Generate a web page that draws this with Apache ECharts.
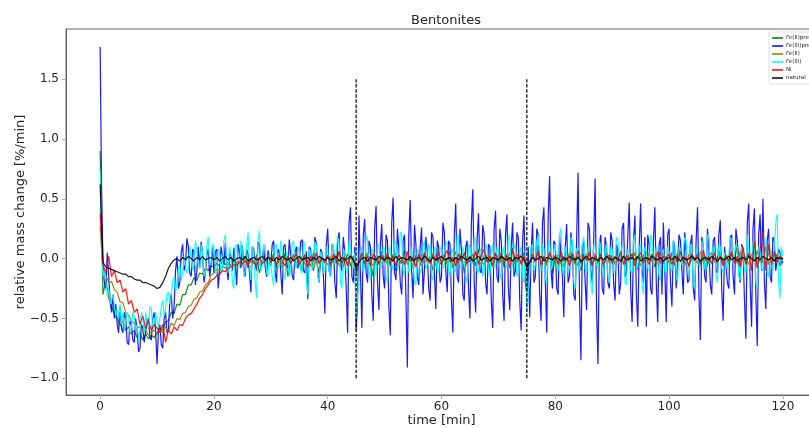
<!DOCTYPE html>
<html>
<head>
<meta charset="utf-8">
<script src="https://cdn.jsdelivr.net/npm/echarts@6/dist/echarts.min.js"></script>
<style>
  html, body { margin: 0; padding: 0; background: #fff; }
  #chart { width: 809px; height: 428px; }
</style>
</head>
<body>
<div id="chart"></div>
<script>
  // sampling steps of the measurements [min]
  const dtFine = 0.25
  const dtCoarse = 0.5

  const xTicks = [0, 20, 40, 60, 80, 100, 120]
  const yTicks = [-1.0, -0.5, 0.0, 0.5, 1.0, 1.5]
  const vlines = [45, 75]
  const vlineRange = [-1.0, 1.5]

  const names = ['Fe(II)pre', 'Fe(III)pre', 'Fe(II)', 'Fe(III)', 'Ni', 'natural']

  // dt = 0.5 min
  const feIIpre = [
    0.9, -0.3, -0.18, -0.33, -0.4, -0.47, -0.5, -0.56, -0.52, -0.6, -0.57, -0.63, -0.6, -0.66, -0.62, -0.68, -0.63, -0.67, -0.64, -0.66,
    -0.62, -0.58, -0.6, -0.53, -0.52, -0.45, -0.46, -0.38, -0.39, -0.3, -0.3, -0.22, -0.22, -0.16, -0.18, -0.12, -0.13, -0.08, -0.1, -0.06,
    -0.07, -0.04, -0.06, -0.02, -0.05, -0.03, -0.06, 0.0, -0.04, -0.02, -0.05, 0.02, -0.08, -0.01, -0.04, 0.03, -0.12, -0.02, 0.02, -0.05,
    -0.02, 0.04, -0.08, 0.0, -0.05, 0.05, -0.15, -0.02, 0.03, -0.06, 0.01, -0.1, 0.04, -0.03, -0.06, 0.05, -0.02, -0.12, 0.02, -0.04,
    0.03, -0.07, 0.0, -0.04, 0.06, -0.1, -0.02, 0.04, -0.06, 0.02, -0.12, -0.05, 0.03, -0.08, 0.05, -0.02, -0.15, 0.02, -0.04, 0.06,
    -0.03, 0.02, -0.06, 0.04, -0.1, 0.0, -0.04, 0.07, -0.05, 0.01, -0.08, 0.03, -0.02, -0.06, 0.05, -0.03, 0.02, -0.1, 0.04, -0.02,
    -0.05, 0.03, -0.02, 0.06, -0.08, 0.01, -0.04, 0.05, -0.12, 0.02, -0.03, 0.04, -0.06, 0.08, -0.02, -0.05, 0.03, -0.1, 0.01, 0.05,
    -0.04, 0.02, -0.07, 0.04, -0.02, 0.09, -0.05, 0.01, -0.03, 0.05, -0.1, -0.06, 0.03, -0.04, 0.12, -0.08, 0.02, -0.05, 0.06, -0.13,
    0.02, -0.04, 0.05, -0.07, 0.01, -0.03, 0.06, -0.05, 0.02, -0.1, 0.04, -0.02, 0.07, -0.06, 0.01, -0.04, 0.03, -0.08, 0.05, -0.02,
    0.03, -0.05, 0.08, -0.03, 0.02, -0.06, 0.04, -0.01, 0.05, -0.09, 0.02, -0.04, 0.06, -0.02, 0.03, -0.07, 0.01, 0.05, -0.04, 0.02,
    -0.03, 0.05, -0.06, 0.02, 0.08, -0.04, 0.01, -0.07, 0.04, -0.02, 0.06, -0.05, 0.03, -0.1, 0.02, 0.05, -0.03, 0.01, 0.07, -0.04,
    0.02, -0.05, 0.04, -0.02, 0.12, -0.06, 0.03, -0.04, 0.05, -0.01, 0.08, -0.07, 0.02, -0.03, 0.1, -0.05, 0.03, -0.02, 0.04, -0.06, 0.01
  ]

  // dt = 0.25 min
  const feIIIpre = [
    1.77, 0.6, -0.05, -0.2, -0.25, 0.05, -0.15, -0.35, -0.45, -0.3, -0.5, -0.38, -0.55, -0.62, -0.4, -0.58, -0.62, -0.45, -0.5, -0.7,
    -0.72, -0.52, -0.55, -0.68, -0.7, -0.5, -0.6, -0.78, -0.75, -0.55, -0.58, -0.7, -0.7, -0.52, -0.5, -0.66, -0.68, -0.5, -0.45, -0.6,
    -0.88, -0.6, -0.55, -0.72, -0.75, -0.5, -0.45, -0.62, -0.6, -0.35, -0.3, -0.5, -0.4, -0.1, 0.02, -0.25, -0.2, 0.05, 0.12, -0.1,
    -0.05, 0.17, 0.1, -0.12, -0.15, 0.08, 0.05, -0.22, -0.1, 0.1, -0.08, 0.14, 0.05, -0.2, -0.12, 0.03, 0.08, -0.15, -0.05, 0.1,
    -0.12, 0.06, 0.08, -0.25, -0.1, 0.1, 0.02, -0.05, 0.13, -0.08, -0.18, 0.05, 0.02, -0.1, 0.09, -0.04, -0.22, 0.12, 0.05, -0.08,
    0.11, -0.06, -0.15, 0.08, 0.04, -0.12, -0.28, 0.1, 0.08, -0.05, -0.1, 0.14, 0.12, -0.08, -0.02, 0.1, -0.06, -0.15, 0.07, 0.02,
    -0.06, 0.12, 0.15, -0.1, -0.2, 0.08, 0.05, -0.12, -0.3, 0.1, 0.12, -0.05, -0.08, 0.16, 0.03, -0.14, -0.18, 0.05, 0.1, -0.08,
    -0.04, 0.14, 0.16, -0.1, -0.12, 0.06, -0.34, 0.1, 0.08, -0.06, -0.1, 0.18, 0.13, -0.12, -0.2, 0.08, 0.05, -0.15, -0.46, 0.12,
    0.25, -0.1, -0.15, 0.12, 0.1, -0.2, -0.33, 0.15, 0.22, -0.05, -0.1, 0.18, 0.05, -0.25, -0.62, 0.3, 0.43, -0.15, -0.2, 0.1,
    -0.6, -0.35, 0.36, -0.1, -0.58, 0.2, 0.33, -0.12, -0.2, 0.15, 0.1, -0.3, -0.52, 0.25, 0.44, -0.2, -0.43, 0.12, 0.29, -0.15,
    -0.25, 0.2, 0.15, -0.4, -0.64, 0.3, 0.51, -0.12, -0.18, 0.25, 0.08, -0.2, -0.3, 0.15, 0.2, -0.33, -0.91, 0.2, 0.49, -0.1,
    -0.33, 0.28, 0.12, -0.15, -0.22, 0.1, 0.26, -0.3, -0.1, 0.18, 0.05, -0.25, -0.35, 0.22, 0.18, -0.12, -0.42, 0.15, 0.1, -0.2,
    -0.15, 0.3, 0.22, -0.1, -0.28, 0.15, 0.12, -0.35, -0.62, 0.2, 0.46, -0.15, -0.2, 0.25, 0.08, -0.3, -0.35, 0.1, 0.15, -0.25,
    -0.5, 0.3, 0.58, -0.2, -0.45, 0.15, 0.38, -0.1, -0.12, 0.28, 0.2, -0.2, -0.3, 0.12, 0.1, -0.35, -0.58, 0.25, 0.4, -0.15,
    -0.2, 0.25, 0.15, -0.3, -0.52, 0.2, 0.37, -0.25, -0.43, 0.1, 0.3, -0.15, -0.1, 0.22, 0.18, -0.35, -0.6, 0.15, 0.36, -0.2,
    -0.3, 0.1, -0.49, 0.05, 0.3, -0.2, -0.15, 0.25, 0.2, -0.3, -0.52, 0.3, 0.43, -0.2, -0.62, 0.35, 0.69, -0.1, -0.25, 0.15,
    0.12, -0.25, -0.3, 0.2, 0.2, -0.15, -0.49, 0.1, 0.29, -0.2, -0.15, 0.22, 0.1, -0.3, -0.35, 0.15, 0.72, -0.3, -0.85, 0.1,
    0.15, -0.2, -0.43, 0.3, 0.25, -0.1, -0.2, 0.15, 0.67, -0.4, -0.88, 0.12, 0.2, -0.25, -0.3, 0.18, 0.1, -0.2, -0.25, 0.22,
    0.15, -0.2, -0.35, 0.12, 0.08, -0.3, -0.2, 0.25, 0.3, -0.15, -0.12, 0.2, 0.47, -0.25, -0.53, 0.15, 0.36, -0.3, -0.57, 0.1,
    0.46, -0.1, -0.2, 0.18, -0.57, 0.2, 0.12, -0.25, -0.3, 0.15, 0.43, -0.2, -0.53, 0.12, 0.18, -0.3, 0.3, -0.1, -0.53, 0.2,
    0.25, -0.2, -0.4, 0.15, 0.1, -0.25, -0.25, 0.2, 0.15, -0.1, -0.3, 0.22, 0.05, -0.2, -0.18, 0.12, 0.2, -0.25, -0.35, 0.15,
    0.43, -0.3, -0.68, 0.18, 0.12, -0.15, -0.2, 0.25, 0.08, -0.22, -0.3, 0.15, 0.18, -0.1, -0.12, 0.2, 0.32, -0.25, -0.52, 0.1,
    0.1, -0.2, -0.25, 0.18, 0.2, -0.15, -0.3, 0.25, 0.15, -0.1, -0.2, 0.12, 0.08, -0.35, -0.67, 0.3, 0.46, -0.2, -0.57, 0.25,
    0.42, -0.3, -0.73, 0.2, 0.37, -0.1, 0.5, -0.2, -0.42, 0.15, 0.25, -0.15, -0.2, 0.18, 0.15, -0.1, -0.1, 0.08, 0.05, -0.05, -0.02
  ]

  // dt = 0.5 min
  const feII = [
    0.27, -0.1, -0.14, -0.2, -0.19, -0.26, -0.28, -0.36, -0.37, -0.45, -0.47, -0.52, -0.54, -0.58, -0.57, -0.62, -0.6, -0.64, -0.61, -0.6,
    -0.63, -0.59, -0.62, -0.57, -0.61, -0.54, -0.56, -0.5, -0.51, -0.46, -0.45, -0.4, -0.39, -0.34, -0.33, -0.28, -0.27, -0.22, -0.2, -0.14,
    -0.12, -0.09, -0.1, -0.06, -0.08, -0.04, -0.06, -0.02, -0.05, -0.03, -0.06, 0.01, -0.04, -0.07, -0.02, 0.02, -0.05, -0.03, 0.0, -0.06,
    -0.02, 0.03, -0.05, -0.01, -0.08, 0.02, -0.04, -0.02, 0.04, -0.07, -0.01, 0.02, -0.05, -0.03, 0.03, -0.09, 0.0, -0.04, 0.02, -0.03,
    -0.05, 0.02, -0.03, 0.04, -0.06, -0.01, 0.03, -0.05, 0.01, -0.04, -0.1, -0.03, 0.02, -0.05, 0.04, -0.02, -0.06, 0.03, -0.01, -0.04,
    0.02, -0.05, 0.01, -0.03, 0.05, -0.06, -0.01, 0.03, -0.04, 0.0, -0.07, 0.02, -0.02, 0.04, -0.05, 0.01, -0.03, 0.05, -0.06, 0.0,
    -0.02, 0.04, -0.05, 0.01, -0.03, 0.06, -0.04, -0.01, 0.03, -0.06, 0.02, -0.03, 0.05, -0.02, -0.05, 0.03, -0.01, 0.04, -0.07, 0.01,
    0.03, -0.04, 0.02, -0.02, 0.05, -0.05, 0.01, -0.03, 0.04, -0.02, -0.09, -0.04, 0.02, -0.01, 0.05, -0.04, 0.02, -0.06, 0.03, -0.01,
    -0.03, 0.04, -0.05, 0.02, -0.01, 0.05, -0.04, 0.01, -0.06, 0.03, -0.02, 0.04, -0.03, 0.0, 0.05, -0.05, 0.02, -0.02, 0.04, -0.04,
    0.01, -0.03, 0.05, -0.02, 0.03, -0.05, 0.0, 0.04, -0.04, 0.02, -0.06, 0.03, -0.01, 0.05, -0.03, 0.01, -0.05, 0.04, -0.02, 0.02,
    -0.04, 0.03, -0.01, 0.05, -0.03, 0.02, -0.06, 0.04, -0.02, 0.01, -0.04, 0.06, -0.03, 0.02, -0.05, 0.03, 0.0, -0.04, 0.05, -0.02,
    0.03, -0.03, 0.05, -0.01, -0.04, 0.06, -0.02, 0.02, -0.05, 0.04, -0.01, 0.07, -0.03, 0.02, -0.04, 0.05, -0.02, 0.03, -0.01, 0.02, 0.0
  ]

  // dt = 0.25 min
  const feIII = [
    0.75, 0.1, -0.15, -0.1, -0.2, -0.3, -0.25, -0.38, -0.35, -0.3, -0.4, -0.48, -0.42, -0.5, -0.38, -0.55, -0.45, -0.6, -0.52, -0.45,
    -0.5, -0.62, -0.58, -0.45, -0.48, -0.6, -0.55, -0.68, -0.6, -0.45, -0.5, -0.62, -0.45, -0.55, -0.58, -0.4, -0.42, -0.6, -0.55, -0.45,
    -0.45, -0.58, -0.5, -0.4, -0.35, -0.48, -0.42, -0.3, -0.28, -0.38, -0.3, -0.2, -0.15, -0.28, -0.2, -0.08, -0.05, -0.18, -0.12, 0.02,
    0.02, -0.12, -0.1, 0.1, 0.1, -0.1, -0.05, 0.15, 0.15, -0.05, -0.08, 0.12, 0.05, -0.15, -0.12, 0.1, 0.18, -0.05, -0.03, 0.12,
    0.1, -0.1, -0.15, 0.08, 0.05, -0.12, -0.08, 0.15, 0.2, -0.05, -0.12, 0.1, 0.03, -0.2, -0.25, 0.1, 0.12, -0.08, -0.05, 0.15,
    0.08, -0.15, -0.1, 0.12, 0.22, -0.05, -0.18, 0.1, 0.05, -0.2, -0.33, 0.15, 0.23, -0.1, -0.06, 0.12, 0.1, -0.12, -0.15, 0.05,
    0.05, -0.15, -0.22, 0.1, 0.12, -0.08, -0.05, 0.15, 0.08, -0.12, -0.18, 0.06, 0.02, -0.15, -0.1, 0.12, 0.15, -0.05, -0.08, 0.1,
    0.05, -0.1, -0.12, 0.15, 0.1, -0.2, -0.3, 0.08, 0.06, -0.1, -0.05, 0.14, 0.12, -0.15, -0.2, 0.06, 0.03, -0.12, -0.1, 0.1,
    0.08, -0.1, -0.15, 0.12, 0.1, -0.05, -0.05, 0.18, 0.15, -0.2, -0.25, 0.08, 0.05, -0.1, -0.12, 0.15, 0.1, -0.05, -0.08, 0.05,
    -0.5, -0.3, -0.2, 0.05, 0.1, -0.12, -0.05, 0.2, 0.15, -0.1, -0.18, 0.08, 0.06, -0.15, -0.1, 0.1, 0.12, -0.08, -0.05, 0.1,
    0.08, -0.15, -0.2, 0.1, 0.05, -0.05, -0.1, 0.15, 0.12, -0.1, -0.05, 0.22, 0.2, -0.1, -0.15, 0.05, 0.03, -0.12, -0.08, 0.1,
    0.1, -0.2, -0.22, 0.08, 0.05, -0.12, -0.1, 0.1, 0.15, -0.08, -0.05, 0.12, 0.08, -0.15, -0.18, 0.1, 0.02, -0.1, -0.12, 0.08,
    0.1, -0.08, -0.05, 0.15, 0.12, -0.1, -0.15, 0.08, 0.06, -0.12, -0.1, 0.2, 0.18, -0.05, -0.08, 0.1, 0.05, -0.15, -0.2, 0.12,
    0.1, -0.05, -0.03, 0.18, 0.15, -0.1, -0.12, 0.08, 0.05, -0.15, -0.1, 0.12, 0.08, -0.1, -0.15, 0.05, 0.12, -0.08, -0.05, 0.1,
    0.05, -0.12, -0.18, 0.08, 0.1, -0.05, -0.08, 0.2, 0.15, -0.1, -0.05, 0.12, 0.08, -0.15, -0.12, 0.05, 0.1, -0.15, -0.2, 0.08,
    -0.45, -0.3, -0.15, 0.1, 0.12, -0.1, -0.05, 0.15, 0.2, -0.08, -0.1, 0.12, 0.08, -0.15, -0.22, 0.1, 0.15, -0.1, -0.05, 0.08,
    0.12, -0.05, -0.1, 0.2, 0.25, -0.08, -0.15, 0.1, 0.05, -0.12, -0.08, 0.18, 0.15, -0.2, -0.25, 0.08, 0.1, -0.1, -0.05, 0.12,
    0.18, -0.08, -0.12, 0.1, 0.06, -0.2, -0.3, 0.12, 0.1, -0.05, -0.08, 0.15, 0.05, -0.1, -0.15, 0.08, 0.12, -0.15, -0.2, 0.1,
    0.08, -0.12, -0.1, 0.18, 0.15, -0.05, -0.05, 0.12, 0.1, -0.2, -0.22, 0.08, 0.05, -0.1, -0.12, 0.15, 0.2, -0.05, -0.08, 0.1,
    0.12, -0.2, -0.3, 0.1, 0.06, -0.08, -0.1, 0.2, 0.15, -0.05, -0.05, 0.1, 0.1, -0.15, -0.18, 0.05, 0.08, -0.1, -0.12, 0.1,
    0.05, -0.08, -0.1, 0.15, 0.12, -0.15, -0.2, 0.1, 0.08, -0.05, -0.05, 0.18, 0.15, -0.1, -0.15, 0.12, 0.1, -0.2, -0.25, 0.08,
    0.05, -0.05, -0.08, 0.15, 0.12, -0.08, -0.1, 0.2, 0.18, -0.05, -0.05, 0.1, 0.08, -0.15, -0.2, 0.12, 0.1, -0.08, -0.12, 0.05,
    0.06, -0.1, -0.1, 0.18, 0.15, -0.05, -0.05, 0.12, 0.1, -0.15, -0.18, 0.1, 0.08, -0.1, -0.12, 0.2, 0.2, -0.08, -0.05, 0.15,
    0.12, -0.2, -0.25, 0.1, 0.08, -0.08, -0.1, 0.18, 0.15, -0.12, -0.15, 0.08, 0.05, -0.1, -0.1, 0.3, 0.37, -0.2, -0.33, 0.1, 0.02
  ]

  // dt = 0.5 min
  const ni = [
    0.38, -0.05, -0.12, 0.02, -0.15, -0.1, -0.2, -0.18, -0.28, -0.25, -0.38, -0.35, -0.45, -0.42, -0.55, -0.48, -0.58, -0.52, -0.6, -0.55,
    -0.58, -0.62, -0.55, -0.7, -0.6, -0.63, -0.57, -0.6, -0.55, -0.56, -0.5, -0.47, -0.46, -0.42, -0.38, -0.33, -0.3, -0.25, -0.22, -0.18,
    -0.17, -0.14, -0.13, -0.1, -0.11, -0.08, -0.07, -0.05, -0.06, -0.03, -0.04, -0.02, -0.05, 0.0, -0.03, -0.06, 0.01, -0.04, -0.02, 0.02,
    -0.03, 0.01, -0.05, 0.03, -0.02, -0.06, 0.02, -0.04, 0.0, 0.04, -0.05, -0.01, 0.03, -0.07, 0.02, -0.02, 0.05, -0.04, 0.01, -0.03,
    0.02, -0.05, 0.04, -0.02, 0.06, -0.04, 0.01, -0.06, 0.03, -0.01, -0.08, -0.02, 0.05, -0.04, 0.02, -0.06, 0.04, 0.0, -0.05, 0.03,
    -0.02, 0.05, -0.04, 0.02, -0.06, 0.03, 0.0, -0.05, 0.06, -0.02, 0.01, -0.07, 0.04, -0.03, 0.05, -0.01, -0.04, 0.03, -0.02, 0.06,
    -0.05, 0.02, 0.07, -0.03, 0.01, -0.06, 0.04, -0.02, 0.05, -0.04, 0.02, -0.01, 0.06, -0.05, 0.03, 0.08, -0.03, 0.02, -0.06, 0.04,
    -0.02, 0.05, -0.04, 0.03, -0.08, 0.07, -0.01, 0.04, -0.05, 0.02, -0.07, -0.03, 0.04, -0.02, 0.06, -0.05, 0.02, -0.03, 0.05, -0.01,
    0.03, -0.05, 0.06, -0.02, 0.01, -0.06, 0.04, -0.03, 0.07, -0.04, 0.02, -0.01, 0.05, -0.06, 0.03, -0.02, 0.04, -0.05, 0.01, 0.03,
    -0.04, 0.02, -0.02, 0.06, -0.05, 0.03, -0.01, 0.04, -0.06, 0.02, 0.05, -0.03, 0.01, -0.05, 0.04, -0.02, 0.06, -0.04, 0.02, -0.01,
    0.04, -0.05, 0.02, -0.03, 0.06, -0.02, 0.01, -0.06, 0.04, -0.01, 0.03, -0.05, 0.07, -0.02, 0.01, -0.04, 0.05, -0.03, 0.02, -0.06,
    0.03, -0.02, 0.06, -0.04, 0.02, -0.07, 0.1, -0.05, 0.04, -0.1, 0.15, -0.08, 0.08, 0.22, -0.1, 0.12, -0.05, 0.06, -0.03, 0.02, 0.0
  ]

  // dt = 0.5 min
  const natural = [
    0.62, -0.03, -0.07, -0.08, -0.09, -0.1, -0.11, -0.12, -0.13, -0.13, -0.15, -0.15, -0.17, -0.18, -0.18, -0.2, -0.2, -0.21, -0.22, -0.23,
    -0.25, -0.24, -0.2, -0.15, -0.08, -0.04, -0.01, 0.0, -0.02, 0.01, -0.01, 0.02, 0.0, -0.02, 0.01, -0.01, 0.02, -0.01, 0.0, 0.01,
    -0.01, 0.01, -0.02, 0.0, 0.02, -0.01, 0.01, -0.02, 0.0, 0.01, -0.01, 0.02, -0.02, 0.0, 0.01, -0.01, 0.0, 0.02, -0.01, 0.01,
    0.0, -0.02, 0.01, -0.01, 0.02, 0.0, -0.01, 0.01, -0.02, 0.0, 0.02, -0.01, 0.0, 0.01, -0.02, 0.01, -0.01, 0.02, 0.0, -0.01,
    0.01, -0.01, 0.0, 0.02, -0.02, 0.01, -0.01, 0.0, 0.02, -0.01, -0.07, -0.03, 0.0, 0.01, -0.02, 0.01, 0.0, -0.01, 0.02, 0.0,
    -0.01, 0.01, 0.0, -0.02, 0.02, -0.01, 0.01, 0.0, -0.01, 0.02, -0.02, 0.0, 0.01, -0.01, 0.02, 0.0, -0.02, 0.01, -0.01, 0.0,
    0.02, -0.01, 0.0, 0.01, -0.02, 0.01, -0.01, 0.02, 0.0, -0.01, 0.01, -0.02, 0.0, 0.02, -0.01, 0.0, 0.01, -0.02, 0.01, 0.0,
    -0.01, 0.02, 0.0, -0.01, 0.01, -0.02, 0.01, 0.0, 0.02, -0.01, -0.07, -0.03, 0.01, -0.01, 0.0, 0.02, -0.02, 0.01, 0.0, -0.01,
    0.01, 0.0, -0.02, 0.01, -0.01, 0.02, 0.0, -0.01, 0.01, -0.02, 0.0, 0.02, -0.01, 0.01, 0.0, -0.02, 0.01, -0.01, 0.02, 0.0,
    -0.01, 0.01, 0.0, -0.02, 0.02, -0.01, 0.0, 0.01, -0.01, 0.02, -0.02, 0.0, 0.01, -0.01, 0.02, 0.0, -0.01, 0.01, -0.02, 0.0,
    0.01, -0.01, 0.02, 0.0, -0.02, 0.01, -0.01, 0.0, 0.02, -0.01, 0.01, -0.02, 0.0, 0.01, -0.01, 0.02, 0.0, -0.02, 0.01, -0.01,
    0.0, 0.02, -0.01, 0.01, -0.02, 0.0, 0.01, -0.01, 0.02, 0.0, -0.02, 0.01, -0.01, 0.02, 0.0, -0.01, 0.01, -0.02, 0.01, 0.0, 0.0
  ]

  const colors = ['#008000', '#0000ff', '#808000', '#00ffff', '#ff0000', '#000000']
  const allSeries = [feIIpre, feIIIpre, feII, feIII, ni, natural]
  const steps = [dtCoarse, dtFine, dtCoarse, dtFine, dtCoarse, dtCoarse]

  const font = 'DejaVu Sans'
  const minus = (v) => v.toFixed(1).replace('-', '\u2212')

  const chart = echarts.init(document.getElementById('chart'))

  const series = allSeries.map((vals, k) => ({
    name: names[k],
    type: 'line',
    showSymbol: false,
    symbol: 'none',
    silent: true,
    lineStyle: { width: 1.2, color: colors[k], opacity: 0.9 },
    itemStyle: { color: colors[k] },
    z: 2 + k,
    data: vals.map((v, i) => [i * steps[k], v])
  }))

  vlines.forEach((x) => {
    series.push({
      type: 'line',
      showSymbol: false,
      symbol: 'none',
      silent: true,
      lineStyle: { width: 1.2, color: '#000', type: [3.5, 1.6] },
      z: 10,
      data: [[x, vlineRange[0]], [x, vlineRange[1]]]
    })
  })

  chart.setOption({
    animation: false,
    backgroundColor: '#fff',
    color: colors,
    title: {
      text: 'Bentonites',
      left: 441,
      top: 9,
      textAlign: 'center',
      textStyle: { fontFamily: font, fontSize: 13, fontWeight: 'normal', color: '#262626' }
    },
    legend: {
      data: names,
      orient: 'vertical',
      left: 769,
      top: 32,
      padding: [3, 3],
      itemWidth: 11,
      itemHeight: 1.5,
      itemGap: 2,
      icon: 'rect',
      backgroundColor: '#fff',
      borderColor: '#d5d5d5',
      borderWidth: 0.8,
      borderRadius: 2,
      textStyle: { fontFamily: font, fontSize: 5.5, lineHeight: 6, color: '#262626', padding: [0, 0, 0, -2] }
    },
    grid: {
      left: 66,
      top: 29,
      width: 751,
      height: 366,
      outerBoundsMode: 'none',
      containLabel: false,
      show: true,
      borderColor: '#666',
      borderWidth: 1,
      backgroundColor: '#fff'
    },
    xAxis: {
      type: 'value',
      min: -6,
      max: 126,
      name: 'time [min]',
      nameLocation: 'middle',
      nameGap: 19,
      nameMoveOverlap: false,
      nameTextStyle: { fontFamily: font, fontSize: 13, color: '#262626', verticalAlign: 'top' },
      axisLine: { show: true, onZero: false, lineStyle: { color: '#666', width: 1 } },
      axisTick: { show: true, length: 4, lineStyle: { color: '#aaa' }, customValues: xTicks },
      axisLabel: { margin: 6, fontFamily: font, fontSize: 12, color: '#262626', customValues: xTicks },
      splitLine: { show: false }
    },
    yAxis: {
      type: 'value',
      min: -1.14,
      max: 1.92,
      name: 'relative mass change [%/min]',
      nameLocation: 'middle',
      nameGap: 39,
      nameMoveOverlap: false,
      nameTextStyle: { fontFamily: font, fontSize: 13, color: '#262626' },
      axisLine: { show: true, onZero: false, lineStyle: { color: '#666', width: 1 } },
      axisTick: { show: true, length: 4, lineStyle: { color: '#aaa' }, customValues: yTicks },
      axisLabel: {
        margin: 7,
        fontFamily: font,
        fontSize: 12,
        color: '#262626',
        customValues: yTicks,
        formatter: (v) => minus(v)
      },
      splitLine: { show: false }
    },
    series: series
  })
</script>
</body>
</html>
